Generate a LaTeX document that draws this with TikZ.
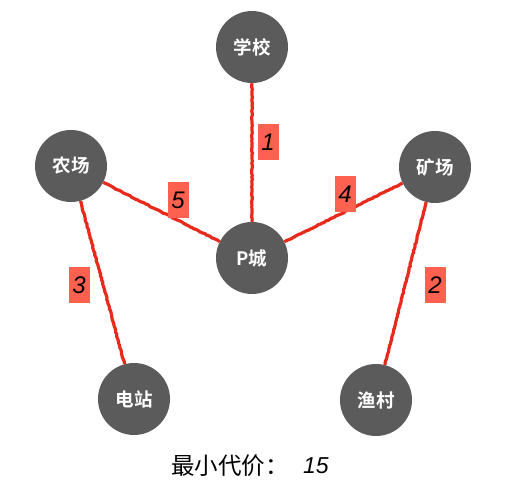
\documentclass[tikz,border=0pt]{standalone}
\usepackage{fontspec}
\setmainfont{Liberation Sans}
\newfontfamily\cjk{Noto Sans CJK SC}
\newfontfamily\cjkb{Noto Sans CJK SC Bold}
\usetikzlibrary{decorations.pathmorphing}
\definecolor{nodegray}{HTML}{5B5B5B}
\definecolor{edgered}{HTML}{E82A1C}
\definecolor{tagred}{HTML}{FF6150}
\tikzset{
  city/.style={circle, fill=nodegray, minimum size=72pt, inner sep=0pt, text=white, font=\cjkb\fontsize{18.5}{18.5}\selectfont},
  road/.style={draw=edgered, line width=3.2pt, decorate, decoration={random steps, segment length=2pt, amplitude=0.4pt}},
  cost/.style={fill=tagred, minimum width=21pt, minimum height=36pt, inner sep=0pt, font=\itshape\fontsize{24}{24}\selectfont, text=black}
}
\begin{document}
\begin{tikzpicture}[x=1pt,y=-1pt]
\useasboundingbox (0,0) rectangle (507,497);
\node[city] (xx) at (252,47) {学校};
\node[city] (nc) at (71,166) {农场};
\node[city] (kc) at (435,167) {矿场};
\node[city] (pc) at (252,258) {P城};
\node[city] (dz) at (134,399) {电站};
\node[city] (yc) at (376,400) {渔村};
\draw[road] (xx) -- (pc);
\draw[road] (nc) -- (pc);
\draw[road] (kc) -- (pc);
\draw[road] (nc) -- (dz);
\draw[road] (kc) -- (yc);
\node[cost] (c1) at (268,142) {1};
\node[cost] (c5) at (178,200) {5};
\node[cost] (c4) at (345,194) {4};
\node[cost] (c2) at (435,285) {2};
\node[cost] (c3) at (79,285) {3};
\node[anchor=west, inner sep=0pt, font=\cjk\fontsize{23.5}{23.5}\selectfont] (total) at (171,466) {最小代价：};
\node[anchor=west, inner sep=0pt, font=\itshape\fontsize{23}{23}\selectfont] (sum) at (303,466) {15};
\end{tikzpicture}
\end{document}
